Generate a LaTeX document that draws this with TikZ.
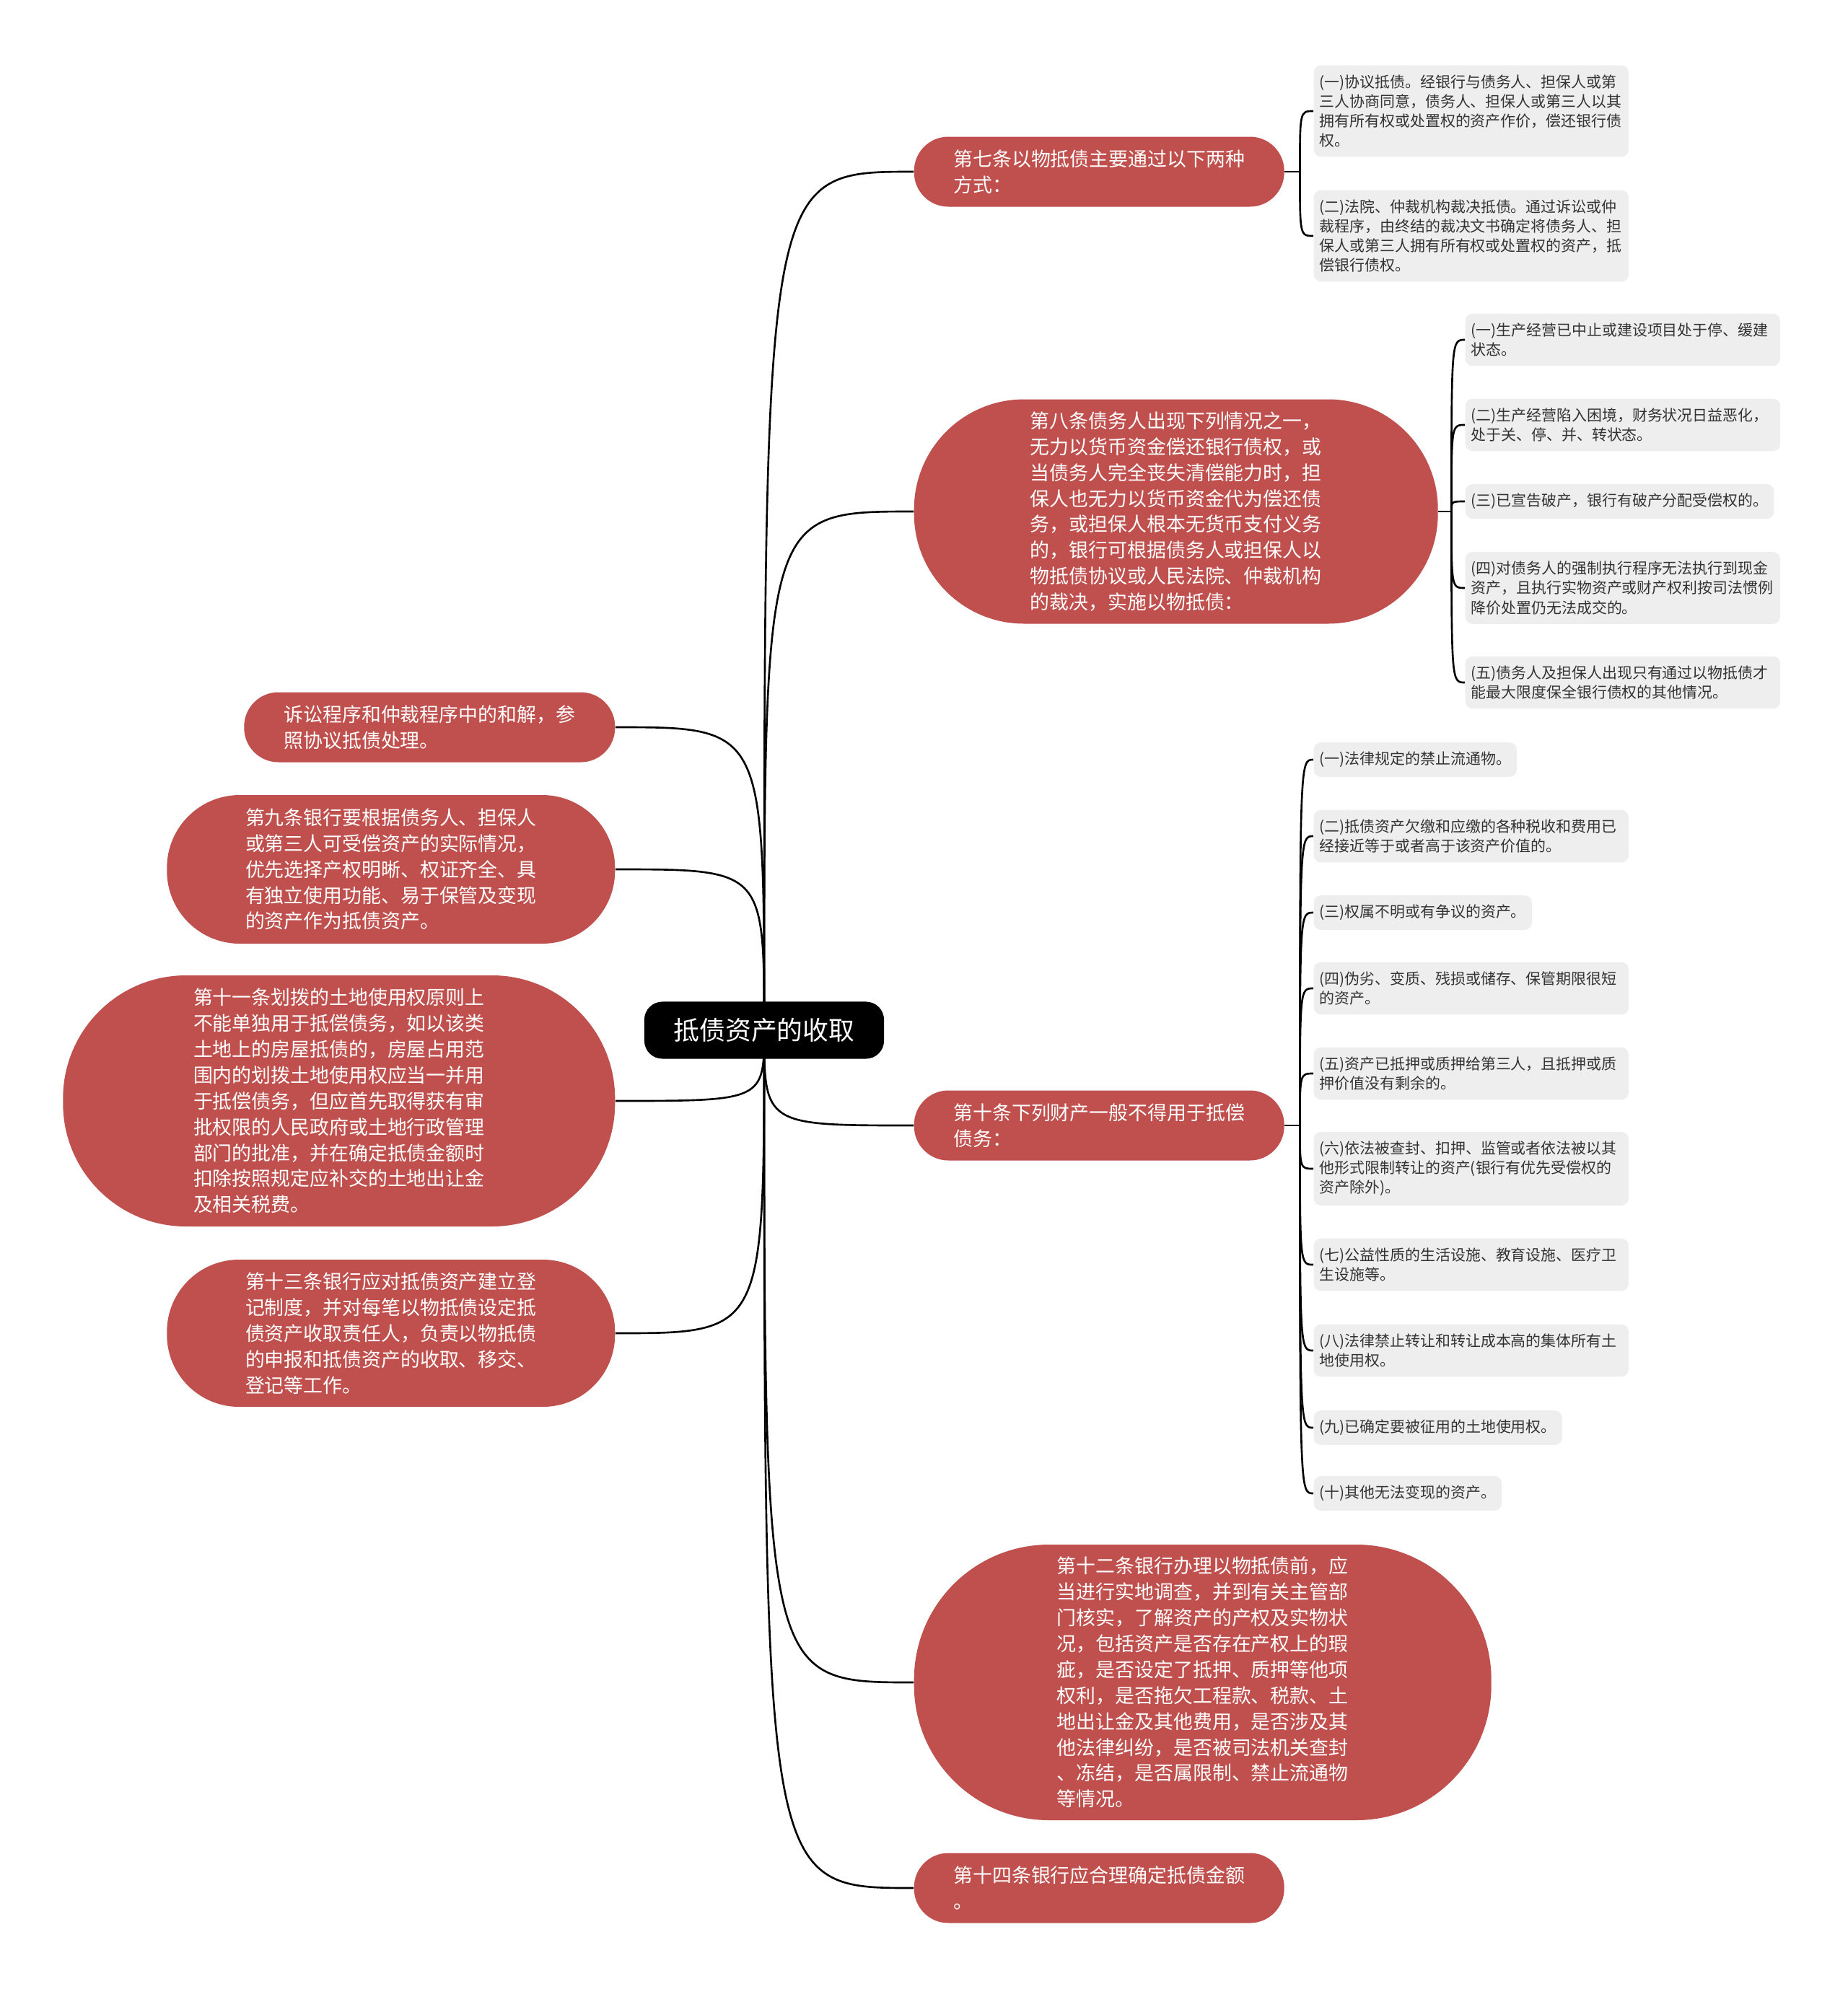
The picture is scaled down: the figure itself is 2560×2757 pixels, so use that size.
\documentclass[tikz,border=0pt]{standalone}
\usepackage{fontspec}
\newfontfamily\cjk{Noto Sans CJK SC}
\usepackage{tikz}
\usetikzlibrary{positioning, backgrounds, calc}
\definecolor{nodered}{RGB}{192,80,77}
\definecolor{leafgray}{RGB}{238,238,238}
\definecolor{leaftext}{RGB}{51,51,51}

\begin{document}
\begin{tikzpicture}[
    x=0.01cm, y=-0.01cm,
    % Style definitions
    rootbox/.style={
        rectangle, fill=black, rounded corners=0.25cm,
        minimum width=3.32cm, minimum height=0.79cm,
        font=\cjk\fontsize{10.2pt}{12pt}\selectfont, text=white
    },
    pill/.style 2 args={
        rectangle, fill=nodered, text=white, align=left,
        minimum width=#1*0.01cm, minimum height=#2*0.01cm,
        rounded corners=#2*0.0049cm, inner sep=0pt,
        font=\cjk\fontsize{7.65pt}{10.2pt}\selectfont
    },
    leaf/.style={
        rectangle, fill=leafgray, text=leaftext, rounded corners=0.1cm,
        align=left, anchor=west, inner xsep=0.08cm, inner ysep=0.13cm,
        font=\cjk\fontsize{5.95pt}{7.7pt}\selectfont
    },
    wideleaf/.style={
        leaf, text width=4.2cm
    },
    link/.style={
        draw=black, line width=0.75pt
    },
]

\useasboundingbox (0,0) rectangle (2560,2757);

% Column positions
\def\colRight{1266}
\def\colLeft{853}
\def\colLeafA{1820}
\def\colLeafB{2030}

% === Root ===
\node[rootbox] (root) at (1059, 1428) {抵债资产的收取};

% === Right branches ===
\node[pill={513}{97}, anchor=west] (art7) at (\colRight, 238) {第七条以物抵债主要通过以下两种\\方式：};
\node[pill={726}{311}, anchor=west] (art8) at (\colRight, 709) {第八条债务人出现下列情况之一，\\无力以货币资金偿还银行债权，或\\当债务人完全丧失清偿能力时，担\\保人也无力以货币资金代为偿还债\\务，或担保人根本无货币支付义务\\的，银行可根据债务人或担保人以\\物抵债协议或人民法院、仲裁机构\\的裁决，实施以物抵债：};
\node[pill={513}{97}, anchor=west] (art10) at (\colRight, 1560) {第十条下列财产一般不得用于抵偿\\债务：};
\node[pill={800}{382}, anchor=west] (art12) at (\colRight, 2332) {第十二条银行办理以物抵债前，应\\当进行实地调查，并到有关主管部\\门核实，了解资产的产权及实物状\\况，包括资产是否存在产权上的瑕\\疵，是否设定了抵押、质押等他项\\权利，是否拖欠工程款、税款、土\\地出让金及其他费用，是否涉及其\\他法律纠纷，是否被司法机关查封\\、冻结，是否属限制、禁止流通物\\等情况。};
\node[pill={513}{97}, anchor=west] (art14) at (\colRight, 2617) {第十四条银行应合理确定抵债金额\\。};

% === Left branches ===
\node[pill={514}{97}, anchor=east] (settle) at (\colLeft, 1008) {诉讼程序和仲裁程序中的和解，参\\照协议抵债处理。};
\node[pill={621}{206}, anchor=east] (art9) at (\colLeft, 1205) {第九条银行要根据债务人、担保人\\或第三人可受偿资产的实际情况，\\优先选择产权明晰、权证齐全、具\\有独立使用功能、易于保管及变现\\的资产作为抵债资产。};
\node[pill={765}{348}, anchor=east] (art11) at (\colLeft, 1526) {第十一条划拨的土地使用权原则上\\不能单独用于抵偿债务，如以该类\\土地上的房屋抵债的，房屋占用范\\围内的划拨土地使用权应当一并用\\于抵偿债务，但应首先取得获有审\\批权限的人民政府或土地行政管理\\部门的批准，并在确定抵债金额时\\扣除按照规定应补交的土地出让金\\及相关税费。};
\node[pill={621}{204}, anchor=east] (art13) at (\colLeft, 1848) {第十三条银行应对抵债资产建立登\\记制度，并对每笔以物抵债设定抵\\债资产收取责任人，负责以物抵债\\的申报和抵债资产的收取、移交、\\登记等工作。};

% === Leaves of art7 ===
\node[wideleaf] (art7a) at (\colLeafA, 154) {(一)协议抵债。经银行与债务人、担保人或第\\三人协商同意，债务人、担保人或第三人以其\\拥有所有权或处置权的资产作价，偿还银行债\\权。};
\node[wideleaf] (art7b) at (\colLeafA, 327) {(二)法院、仲裁机构裁决抵债。通过诉讼或仲\\裁程序，由终结的裁决文书确定将债务人、担\\保人或第三人拥有所有权或处置权的资产，抵\\偿银行债权。};

% === Leaves of art8 ===
\node[wideleaf] (art8a) at (\colLeafB, 471) {(一)生产经营已中止或建设项目处于停、缓建\\状态。};
\node[wideleaf] (art8b) at (\colLeafB, 589) {(二)生产经营陷入困境，财务状况日益恶化，\\处于关、停、并、转状态。};
\node[leaf] (art8c) at (\colLeafB, 695) {(三)已宣告破产，银行有破产分配受偿权的。};
\node[wideleaf] (art8d) at (\colLeafB, 815) {(四)对债务人的强制执行程序无法执行到现金\\资产，且执行实物资产或财产权利按司法惯例\\降价处置仍无法成交的。};
\node[wideleaf] (art8e) at (\colLeafB, 946) {(五)债务人及担保人出现只有通过以物抵债才\\能最大限度保全银行债权的其他情况。};

% === Leaves of art10 ===
\node[leaf] (art10a) at (\colLeafA, 1053) {(一)法律规定的禁止流通物。};
\node[wideleaf] (art10b) at (\colLeafA, 1159) {(二)抵债资产欠缴和应缴的各种税收和费用已\\经接近等于或者高于该资产价值的。};
\node[leaf] (art10c) at (\colLeafA, 1265) {(三)权属不明或有争议的资产。};
\node[wideleaf] (art10d) at (\colLeafA, 1370) {(四)伪劣、变质、残损或储存、保管期限很短\\的资产。};
\node[wideleaf] (art10e) at (\colLeafA, 1488) {(五)资产已抵押或质押给第三人，且抵押或质\\押价值没有剩余的。};
\node[wideleaf] (art10f) at (\colLeafA, 1620) {(六)依法被查封、扣押、监管或者依法被以其\\他形式限制转让的资产(银行有优先受偿权的\\资产除外)。};
\node[wideleaf] (art10g) at (\colLeafA, 1753) {(七)公益性质的生活设施、教育设施、医疗卫\\生设施等。};
\node[wideleaf] (art10h) at (\colLeafA, 1872) {(八)法律禁止转让和转让成本高的集体所有土\\地使用权。};
\node[leaf] (art10i) at (\colLeafA, 1979) {(九)已确定要被征用的土地使用权。};
\node[leaf] (art10j) at (\colLeafA, 2070) {(十)其他无法变现的资产。};

% === Junctions ===
\coordinate (j7) at ([xshift=0.21cm]art7.east);
\coordinate (j8) at ([xshift=0.18cm]art8.east);
\coordinate (j10) at ([xshift=0.21cm]art10.east);

% === Connectors ===
\begin{scope}[on background layer]
    \fill[white] (0,0) rectangle (2560,2757);
    \foreach \n in {art7, art8, art10, art12, art14}
        \draw[link] (root.center) .. controls (root.center |- \n.west) .. (\n.west);
    \foreach \n in {settle, art9, art11, art13}
        \draw[link] (root.center) .. controls (root.center |- \n.east) .. (\n.east);
    \draw[link] (art7.east) -- (j7);
    \draw[link] (art8.east) -- (j8);
    \draw[link] (art10.east) -- (j10);
    \foreach \c in {art7a, art7b}
        \draw[link] (j7) .. controls (j7 |- \c.west) .. (\c.west);
    \foreach \c in {art8a, art8b, art8c, art8d, art8e}
        \draw[link] (j8) .. controls (j8 |- \c.west) .. (\c.west);
    \foreach \c in {art10a, art10b, art10c, art10d, art10e, art10f, art10g, art10h, art10i, art10j}
        \draw[link] (j10) .. controls (j10 |- \c.west) .. (\c.west);
\end{scope}

\end{tikzpicture}
\end{document}
